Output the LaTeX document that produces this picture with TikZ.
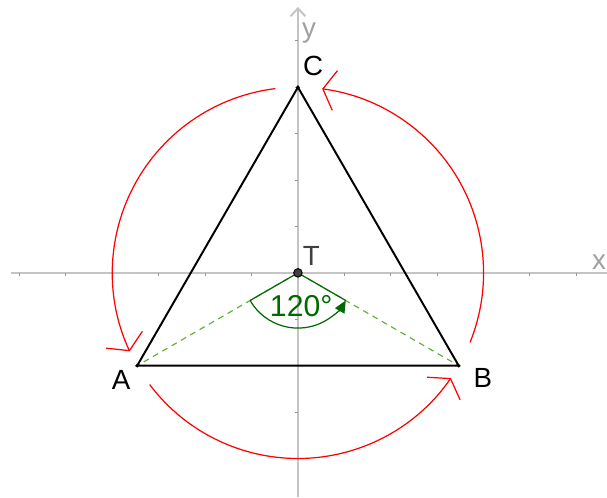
\documentclass[tikz,border=0pt]{standalone}
\usepackage{fontspec}
\setmainfont{Liberation Sans}
\usetikzlibrary{arrows.meta,positioning}
\definecolor{axisgray}{RGB}{196,196,196}
\definecolor{tickgray}{RGB}{150,150,150}
\definecolor{labelgray}{RGB}{160,160,160}
\definecolor{centregray}{RGB}{64,64,64}
\definecolor{anglegreen}{RGB}{0,105,0}
\definecolor{dashgreen}{RGB}{95,175,45}
\definecolor{turnred}{RGB}{255,0,0}

\begin{document}
\begin{tikzpicture}[
    axis/.style={draw=axisgray,line width=1.2pt},
    tick/.style={draw=tickgray,line width=0.6pt},
    side/.style={draw=black,line width=1.2pt},
    radius line/.style={draw=dashgreen,line width=0.7pt,dash pattern=on 3.6pt off 3pt},
    sector/.style={draw=anglegreen,line width=0.75pt},
    turn/.style={draw=turnred,line width=0.75pt,-{Straight Barb[length=2.6mm,width=8.6mm]}},
    lbl/.style={inner sep=0pt,font=\fontsize{17pt}{20pt}\selectfont},
    axlbl/.style={inner sep=0pt,text=labelgray,font=\fontsize{17pt}{20pt}\selectfont},
    anglbl/.style={inner sep=0pt,text=anglegreen,font=\fontsize{18.5pt}{22pt}\selectfont}
  ]
    \useasboundingbox (-6.42,-4.83) rectangle (6.66,5.88);
    \coordinate (T) at (0,0);
    \coordinate (A) at (210:4);
    \coordinate (B) at (330:4);
    \coordinate (C) at (90:4);
    \coordinate (xstart) at (-6.19,0);
    \coordinate (xend) at (6.66,0);
    \coordinate (ystart) at (0,-4.83);
    \coordinate (yend) at (0,5.73);
    \draw[axis] (xstart) -- (xend);
    \draw[axis,-{Straight Barb[length=1.7mm,width=3.2mm]}] (ystart) -- (yend);
    \foreach \i in {-6,...,-1,1,2,...,6} \draw[tick] (\i,0) -- (\i,-0.07);
    \foreach \j in {-4,...,-1,1,2,...,5} \draw[tick] (0,\j) -- (-0.07,\j);
    \node[axlbl] (xlbl) at (6.49,0.24) {x};
    \node[axlbl] (ylbl) at (0.24,5.17) {y};
    \draw[radius line] (T) -- (A);
    \draw[radius line] (T) -- (B);
    \draw[sector] (T) -- ([shift={(210:1.19)}]T);
    \draw[sector] (T) -- ([shift={(330:1.19)}]T);
    \draw[sector,-{Triangle[length=2.6mm,width=2.3mm]}] ([shift={(210:1.19)}]T) arc[start angle=210,end angle=330,radius=1.19];
    \node[anglbl,below=0.47cm of T,xshift=2pt] (angle) {120°};
    \draw[side] (A) -- (B) -- (C) -- cycle;
    \draw[turn] ([shift={(97:4)}]T) arc[start angle=97,end angle=205,radius=4];
    \draw[turn] ([shift={(217:4)}]T) arc[start angle=217,end angle=325.5,radius=4];
    \draw[turn] ([shift={(338:4)}]T) arc[start angle=338,end angle=442.5,radius=4];
    \fill (A) circle[radius=1.2pt];
    \fill (B) circle[radius=1.2pt];
    \fill (C) circle[radius=1.2pt];
    \filldraw[fill=centregray,draw=black,line width=0.6pt] (T) circle[radius=2.6pt];
    \node[lbl,above right=0.245cm and 0.105cm of C] (Clbl) {C};
    \node[lbl,text=centregray,above right=0.155cm and 0.1cm of T] (Tlbl) {T};
    \node[lbl,below left=0.095cm and 0.14cm of A] (Albl) {A};
    \node[lbl,below right=0.045cm and 0.316cm of B] (Blbl) {B};
  \end{tikzpicture}
\end{document}
